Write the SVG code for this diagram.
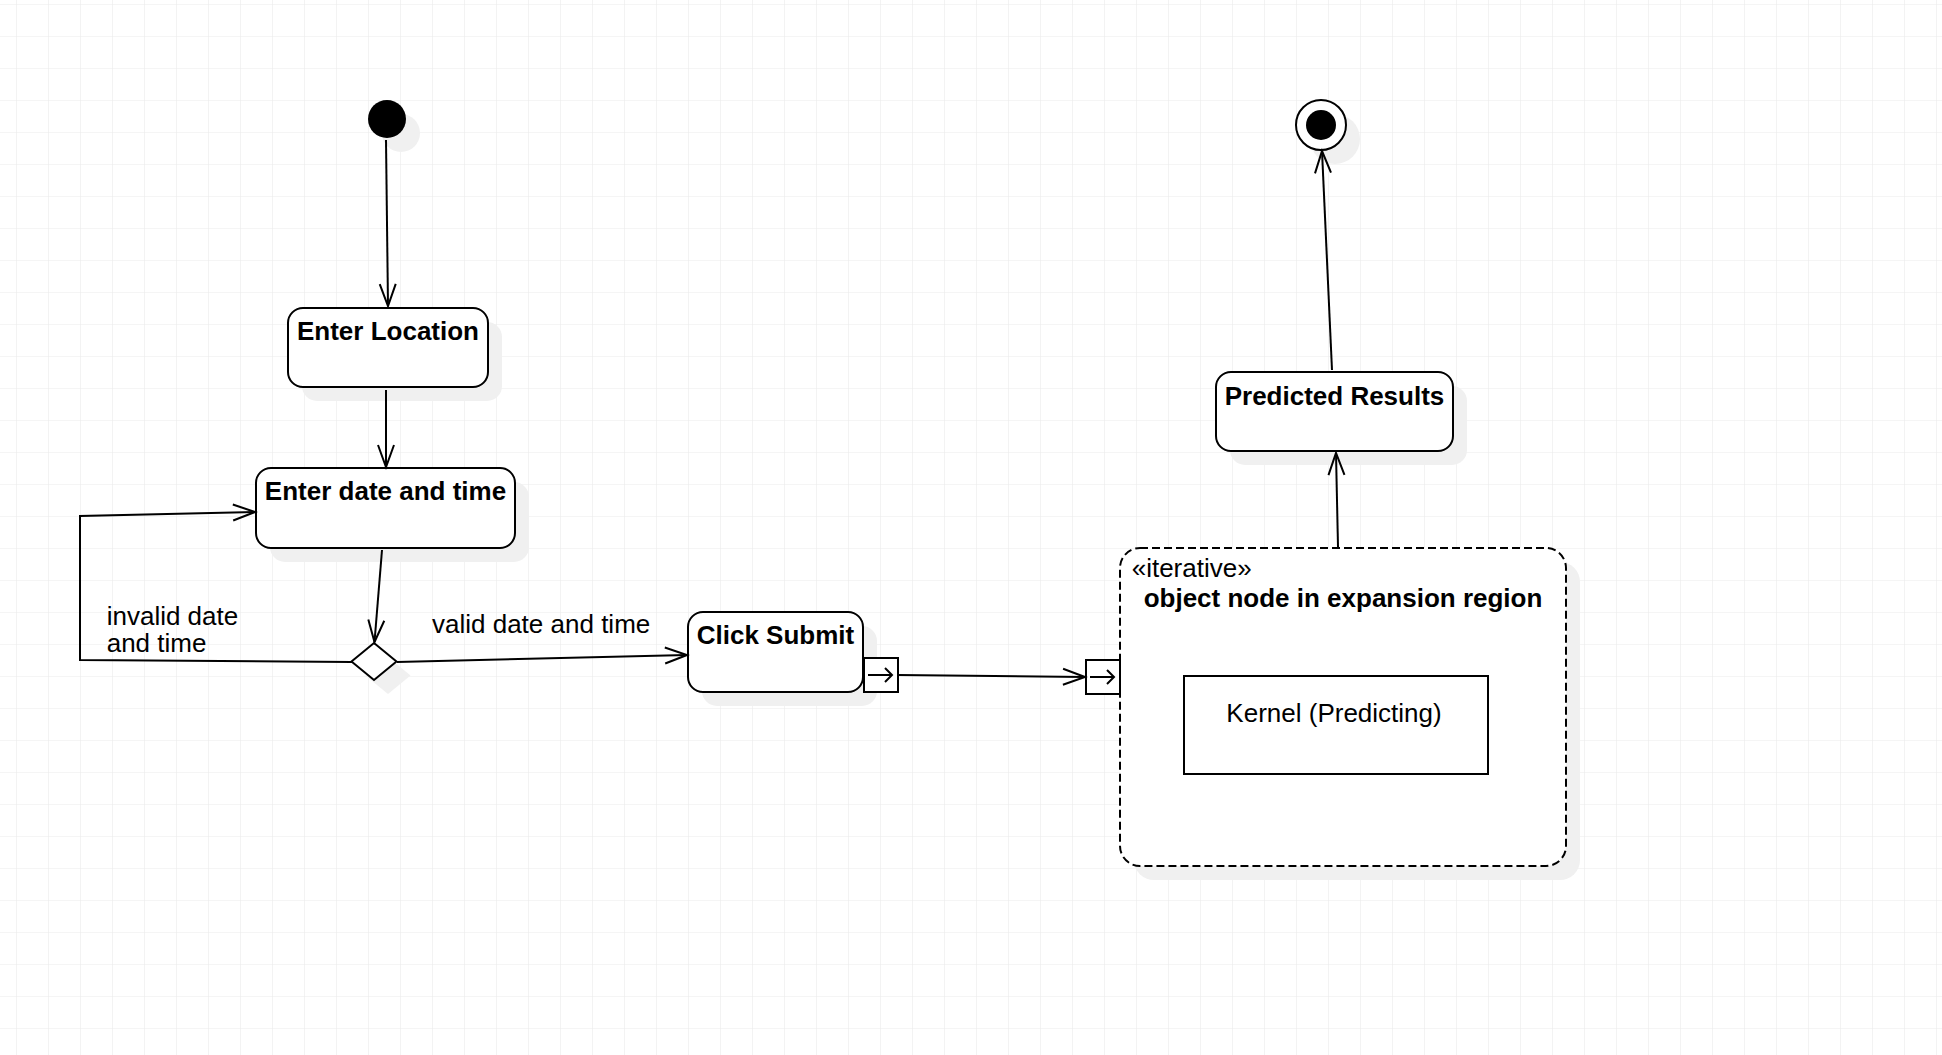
<svg xmlns="http://www.w3.org/2000/svg" width="1942" height="1055" viewBox="0 0 1942 1055">
<defs>
<pattern id="grid" x="16" y="4" width="32" height="32" patternUnits="userSpaceOnUse">
<path d="M0,0 L32,0 M0,0 L0,32" fill="none" stroke="#ebebeb" stroke-width="1.2"/>
</pattern>
<marker id="open" markerWidth="30" markerHeight="22" viewBox="-25 -11 28 22" refX="0" refY="0" orient="auto" markerUnits="userSpaceOnUse">
<path d="M-22,-8 L0,0 L-22,8" fill="none" stroke="#000" stroke-width="2"/>
</marker>
</defs>
<style>
.box{fill:#fff;stroke:#000;stroke-width:2}
.shadow{fill:#f0f0f0;stroke:none}
.edge{fill:none;stroke:#000;stroke-width:2;marker-end:url(#open)}
.line{fill:none;stroke:#000;stroke-width:2}
.b{font-family:"Liberation Sans",Arial,sans-serif;font-weight:bold;font-size:26px;fill:#000}
.r{font-family:"Liberation Sans",Arial,sans-serif;font-size:26px;fill:#000}
</style>
<rect width="1942" height="1055" fill="#fff"/>
<rect width="1942" height="1055" fill="url(#grid)"/>

<g id="initial">
<circle class="shadow" cx="401" cy="133" r="19"/>
<circle cx="387" cy="119" r="19" fill="#000"/>
</g>

<g id="enter-location">
<rect class="shadow" x="302" y="322" width="200" height="79" rx="15"/>
<rect class="box" x="288" y="308" width="200" height="79" rx="15"/>
<text class="b" x="388" y="340" text-anchor="middle">Enter Location</text>
</g>

<g id="enter-date">
<rect class="shadow" x="270" y="482" width="259" height="80" rx="15"/>
<rect class="box" x="256" y="468" width="259" height="80" rx="15"/>
<text class="b" x="385.5" y="500" text-anchor="middle">Enter date and time</text>
</g>

<g id="decision">
<path class="shadow" d="M388,657 L410.5,675.5 L388,694 L365.5,675.5 Z"/>
<path class="box" d="M374,643 L396.5,661.5 L374,680 L351.5,661.5 Z"/>
</g>

<g id="click-submit">
<rect class="shadow" x="702" y="626" width="175" height="80" rx="15"/>
<rect class="box" x="688" y="612" width="175" height="80" rx="15"/>
<text class="b" x="775.5" y="644.3" text-anchor="middle">Click Submit</text>
</g>

<g id="output-pin">
<rect class="box" x="864" y="658" width="34" height="34"/>
<path class="line" d="M868,675 L892,675 M885,668 L892,675 L885,682"/>
</g>

<g id="expansion-region">
<rect class="shadow" x="1134" y="562" width="446" height="318" rx="20"/>
<rect x="1120" y="548" width="446" height="318" rx="20" fill="#fff" stroke="#000" stroke-width="2" stroke-dasharray="8 4"/>
<text class="r" x="1131.7" y="576.7">«iterative»</text>
<text class="b" x="1343" y="606.7" text-anchor="middle">object node in expansion region</text>
</g>

<g id="input-pin">
<rect class="box" x="1086" y="660" width="34" height="34"/>
<path class="line" d="M1090,677 L1114,677 M1107,670 L1114,677 L1107,684"/>
</g>

<g id="kernel">
<rect class="box" x="1184" y="676" width="304" height="98"/>
<text class="r" x="1334" y="721.7" text-anchor="middle">Kernel (Predicting)</text>
</g>

<g id="predicted-results">
<rect class="shadow" x="1230" y="386" width="237" height="79" rx="15"/>
<rect class="box" x="1216" y="372" width="237" height="79" rx="15"/>
<text class="b" x="1334.5" y="405" text-anchor="middle">Predicted Results</text>
</g>

<g id="final">
<circle class="shadow" cx="1335" cy="139" r="25"/>
<circle cx="1321" cy="125" r="25" fill="#fff" stroke="#000" stroke-width="2"/>
<circle cx="1321" cy="125" r="15" fill="#000"/>
</g>

<g id="connectors">
<path class="edge" d="M386,140 L388,306"/>
<path class="edge" d="M386,390 L386,467"/>
<path class="edge" d="M382,550 L374.5,642"/>
<path class="edge" d="M352,662 L80,660 L80,516 L255,512"/>
<path class="edge" d="M397,662 L687,655"/>
<path class="edge" d="M898,675 L1085,677"/>
<path class="edge" d="M1338,547 L1336,453"/>
<path class="edge" d="M1332,370 L1322,151"/>
<text class="r" x="106.7" y="625">invalid date</text>
<text class="r" x="106.7" y="651.7">and time</text>
<text class="r" x="432" y="633.3">valid date and time</text>
</g>
</svg>
